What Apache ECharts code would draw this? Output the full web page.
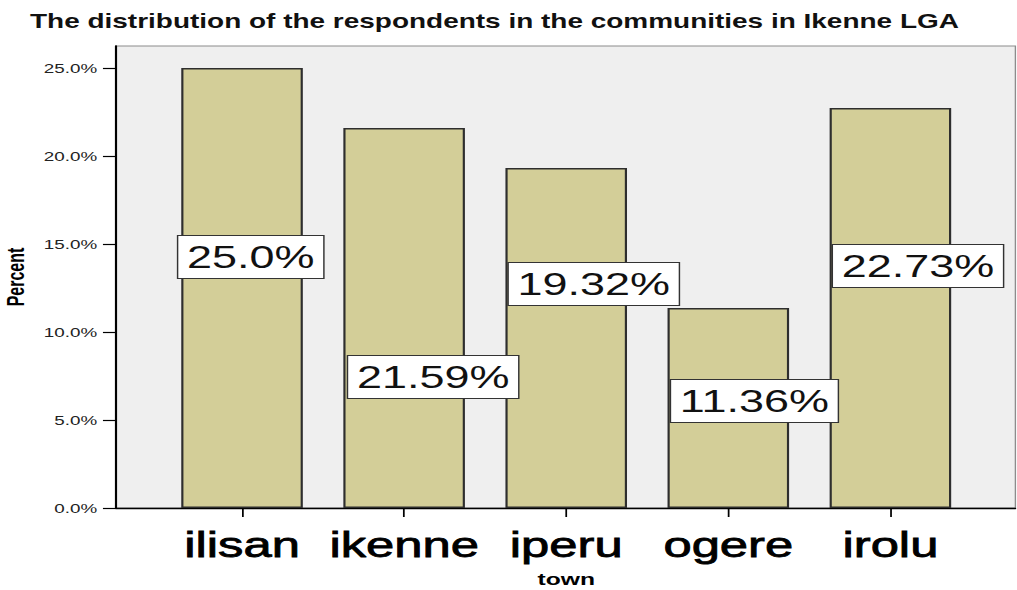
<!DOCTYPE html>
<html>
<head>
<meta charset="utf-8">
<script src="https://cdn.jsdelivr.net/npm/echarts@6/dist/echarts.min.js"></script>
<style>
  html, body { margin: 0; padding: 0; background: #ffffff; overflow: hidden; }
  #wrap { width: 1017px; height: 590px; overflow: hidden; }
  #chart { height: 590px; transform-origin: 0 0; }
</style>
</head>
<body>
<div id="wrap"><div id="chart"></div></div>
<script>
// ---- data ----
const categories = ['ilisan', 'ikenne', 'iperu', 'ogere', 'irolu'];
const percentValues = [25.0, 21.59, 19.32, 11.36, 22.73];
const valueLabels = ['25.0%', '21.59%', '19.32%', '11.36%', '22.73%'];
const yTicks = [0, 5, 10, 15, 20, 25];
const titleText = 'The distribution of the respondents in the communities in Ikenne LGA';

// ---- label placement (style only) ----
const labelLift = [230, 110, 203, 86, 221];
const labelShift = [6, 20, 19, 18, 19];

// horizontal stretch of the original picture
const S = 1.45;
const W = 1017 / S;
const el = document.getElementById('chart');
el.style.width = W + 'px';
el.style.transform = 'scaleX(' + S + ')';

const font = "'Liberation Sans', Arial, sans-serif";
const yMax = 26.25;
const gTop = 46, gBottom = 590 - 508;
const frameLeft = 116 / S;
const bandLeft = 161 / S, bandRight = 972 / S;

const chart = echarts.init(el, null, { renderer: 'svg' });
chart.setOption({
  animation: false,
  backgroundColor: '#ffffff',
  title: {
    text: titleText,
    left: 30 / S - 5,
    top: 7,
    padding: 5,
    textStyle: { fontFamily: font, fontWeight: 'bold', fontSize: 19.3, color: '#111' }
  },
  grid: [
    { left: frameLeft, right: 1 / S, top: gTop, bottom: gBottom, show: true, outerBoundsMode: 'none',
      backgroundColor: '#efefef', borderColor: '#8c8c8c', borderWidth: 1 },
    { left: bandLeft, right: W - bandRight, top: gTop, bottom: gBottom, outerBoundsMode: 'none' }
  ],
  xAxis: [
    { gridIndex: 0, type: 'value', min: 0, max: 1,
      axisLine: { show: true, onZero: false, lineStyle: { color: '#000', width: 1.3 } },
      axisTick: { show: false }, axisLabel: { show: false }, splitLine: { show: false } },
    { gridIndex: 1, type: 'category', data: categories,
      axisLine: { show: false },
      axisTick: { show: true, alignWithLabel: true, length: 9, lineStyle: { color: '#000', width: 1.2 } },
      axisLabel: { interval: 0, hideOverlap: false, fontFamily: font, fontSize: 35, color: '#000',
        textBorderColor: '#000', textBorderWidth: 0.8, margin: 19 },
      name: 'town', nameLocation: 'middle', nameGap: 62,
      nameTextStyle: { fontFamily: font, fontWeight: 'bold', fontSize: 17, color: '#000' } }
  ],
  yAxis: [
    { gridIndex: 0, type: 'value', min: 0, max: yMax,
      axisLine: { show: true, lineStyle: { color: '#000', width: 1.5 } },
      axisTick: { show: true, length: 9, customValues: yTicks, lineStyle: { color: '#000', width: 1.2 } },
      axisLabel: { customValues: yTicks, fontFamily: font, fontSize: 13, color: '#222', margin: 13,
        formatter: v => v.toFixed(1) + '%' },
      splitLine: { show: false },
      name: 'Percent', nameLocation: 'middle', nameGap: 53, nameRotate: 90,
      nameTextStyle: { fontFamily: font, fontWeight: 'bold', fontSize: 16, color: '#000' } },
    { gridIndex: 1, type: 'value', min: 0, max: yMax, show: false }
  ],
  series: [{
    type: 'bar',
    xAxisIndex: 1, yAxisIndex: 1,
    barWidth: '75%',
    itemStyle: { color: '#d3ce98', borderColor: '#2e2e2e', borderWidth: 1.5 },
    label: {
      show: true, position: 'insideBottom', distance: 0,
      fontFamily: font, fontSize: 31, color: '#111',
      backgroundColor: '#ffffff', borderColor: '#333', borderWidth: 1,
      padding: [6, 6, 5, 6]
    },
    data: percentValues.map((v, i) => ({
      value: v,
      label: { offset: [labelShift[i], -labelLift[i]], formatter: valueLabels[i] }
    }))
  }]
});
</script>
</body>
</html>
